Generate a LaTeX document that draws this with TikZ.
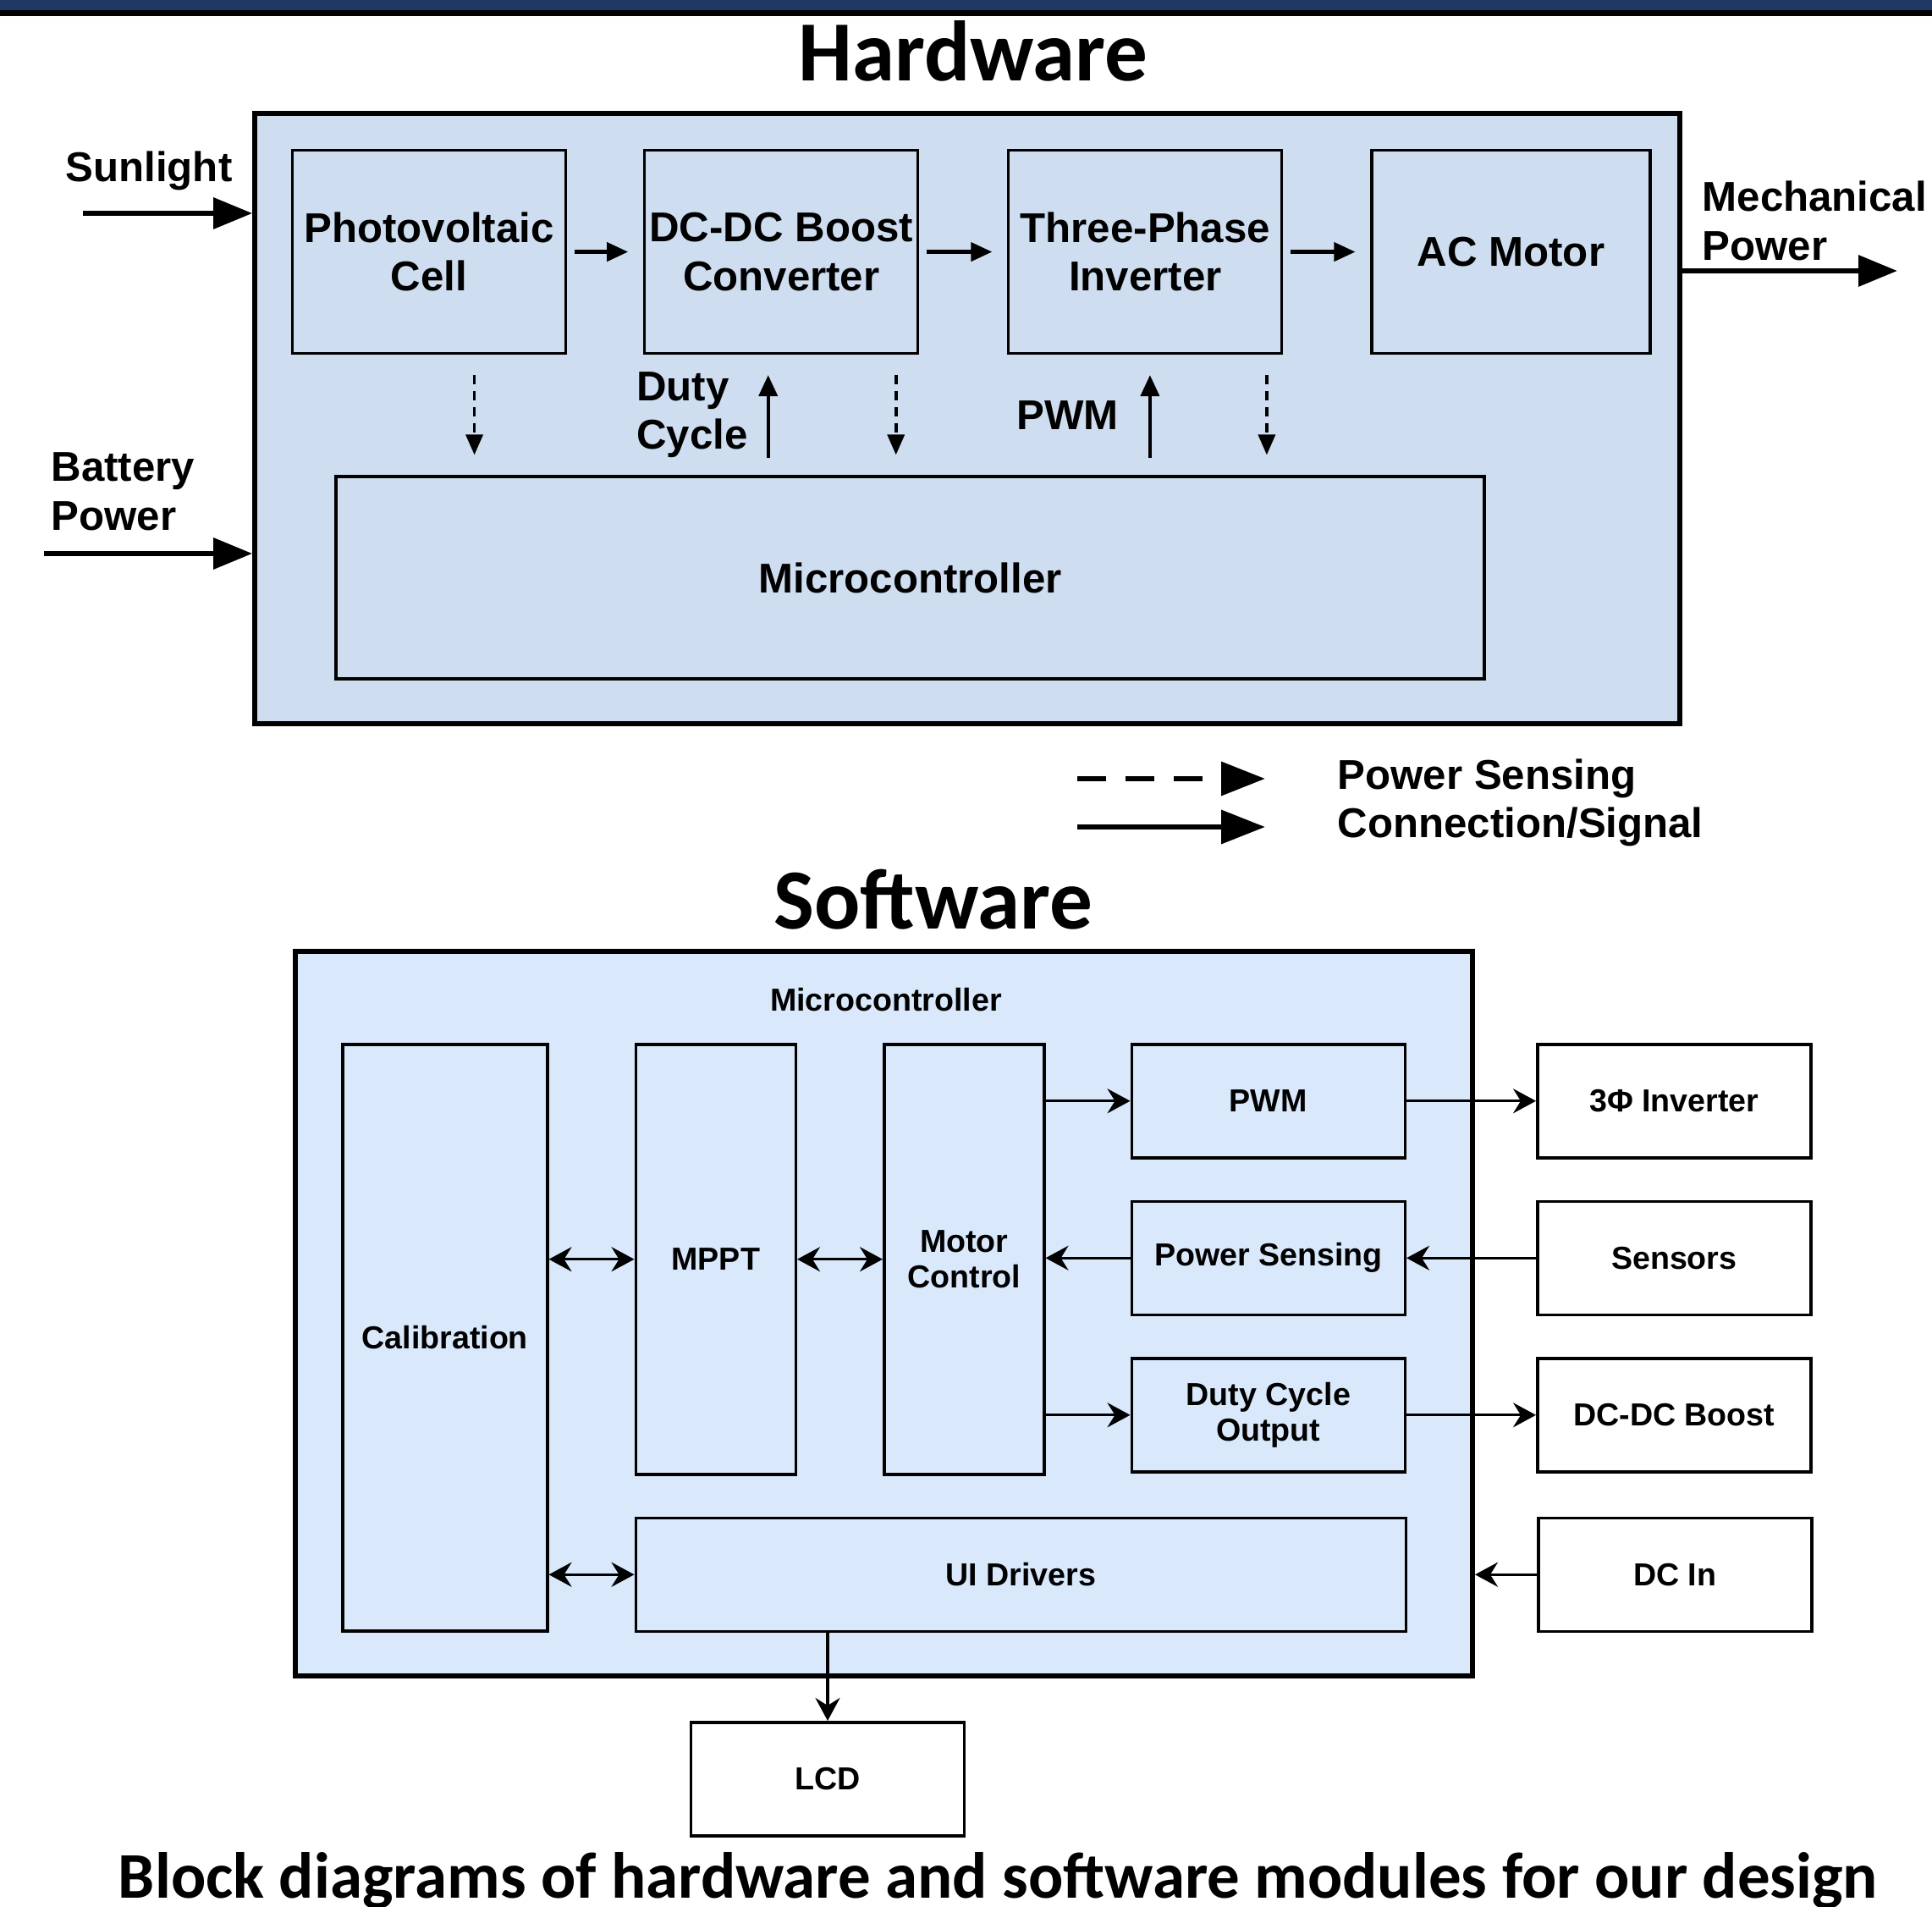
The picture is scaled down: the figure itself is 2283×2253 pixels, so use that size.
\documentclass[tikz,border=0pt]{standalone}
\usepackage{fontspec}
\setmainfont{Liberation Sans}
\newfontfamily\headfont{Carlito}
\usepackage{tikz}
\usepackage{xcolor}
\usetikzlibrary{positioning, arrows.meta}

\definecolor{hwblue}{HTML}{CEDEF0}
\definecolor{swblue}{HTML}{DAE8FC}
\definecolor{banner}{HTML}{1F3864}

\newcommand{\hwfont}{\fontsize{14}{16.4}\selectfont\bfseries}
\newcommand{\swfont}{\fontsize{10.7}{12}\selectfont\bfseries}

\tikzset{
  hwbox/.style={draw, line width=0.9pt, fill=hwblue, align=center, font=\hwfont,
    inner xsep=0.5pt, minimum width=32.3mm, minimum height=24mm},
  hwlabel/.style={align=left, inner sep=0pt, font=\hwfont},
  heading/.style={anchor=base, inner sep=0pt, font=\headfont\fontsize{28.8}{31}\selectfont\bfseries},
  sig/.style={-{Triangle[length=2.5mm,width=2.2mm]}, line width=1.2pt},
  sense/.style={-{Triangle[length=2.4mm,width=2mm]}, line width=1pt,
    dash pattern=on 1.1mm off 0.8mm, shorten <=2.4mm, shorten >=2.4mm},
  bigarrow/.style={-{Triangle[length=4.6mm,width=3.6mm]}, line width=1.8pt},
  legarrow/.style={-{Triangle[length=5.2mm,width=3.9mm]}, line width=1.9pt},
  swbox/.style={draw, line width=1pt, fill=swblue, align=center, font=\swfont},
  iobox/.style={swbox, fill=white, minimum width=32.3mm, minimum height=13.4mm},
  swhead/.tip={Stealth[length=2.7mm,width=2.9mm,inset=0.9mm]},
  flow/.style={-swhead, line width=0.9pt},
  twoway/.style={swhead-swhead, line width=0.9pt},
}

\begin{document}
\begin{tikzpicture}[x=0.1mm, y=-0.1mm, node distance=10mm]
  \useasboundingbox[fill=white] (0,0) rectangle (2283,2253);
  % banner
  \fill[banner] (0,0) rectangle (2283,12);
  \fill[black] (0,12) rectangle (2283,19);

  % hardware
  \node[heading] (hwtitle) at (1150,96) {Hardware};
  \node[draw, line width=1.6pt, fill=hwblue, minimum width=168.4mm, minimum height=72.1mm] (hw) at (1143,494.5) {};
  \node[hwbox, anchor=north west] (pv) at (344,176) {Photovoltaic\\Cell};
  \node[hwbox] (boost) [right=9mm of pv] {DC-DC Boost\\Converter};
  \node[hwbox] (inverter) [right=10.4mm of boost] {Three-Phase\\Inverter};
  \node[hwbox, minimum width=32.9mm] (motor) [right=10.3mm of inverter] {AC Motor};
  \node[hwbox, minimum width=135.7mm, minimum height=23.9mm] (hwmcu) at (1075.5,682.5) {Microcontroller};

  \draw[sig, shorten <=0.9mm, shorten >=1.8mm] (pv) -- (boost);
  \draw[sig, shorten <=0.9mm, shorten >=1.8mm] (boost) -- (inverter);
  \draw[sig, shorten <=0.9mm, shorten >=1.8mm] (inverter) -- (motor);

  \draw[sense] ([xshift=5.35mm]pv.south) -- ([xshift=5.35mm]pv.south |- hwmcu.north);
  \draw[sense] ([xshift=13.55mm]boost.south) -- ([xshift=13.55mm]boost.south |- hwmcu.north);
  \draw[sense] ([xshift=14.35mm]inverter.south) -- ([xshift=14.35mm]inverter.south |- hwmcu.north);
  \draw[sig, shorten <=2mm, shorten >=2.4mm] ([xshift=-1.55mm]boost.south |- hwmcu.north)
    -- node[hwlabel, left=2.2mm] {Duty\\Cycle} ([xshift=-1.55mm]boost.south);
  \draw[sig, shorten <=2mm, shorten >=2.4mm] ([xshift=0.55mm]inverter.south |- hwmcu.north)
    -- node[hwlabel, left=3.5mm] {PWM} ([xshift=0.55mm]inverter.south);

  \coordinate (sun) at (98,252);
  \coordinate (battery) at (52,654);
  \coordinate (mech) at (2242,320);
  \draw[bigarrow] (sun) -- (sun -| hw.west);
  \draw[bigarrow] (battery) -- (battery -| hw.west);
  \draw[bigarrow] (mech -| hw.east) -- (mech);
  \node[hwlabel] (sunlbl) at (176,202) {Sunlight};
  \node[hwlabel, anchor=west] (batlbl) at (60,581) {Battery\\Power};
  \node[hwlabel, anchor=west] (mechlbl) at (2011,261) {Mechanical\\Power};

  % legend
  \coordinate (lgA) at (1273,920);
  \coordinate (lgB) at (1495,920);
  \coordinate (lgC) at (1273,977);
  \coordinate (lgD) at (1495,977);
  \draw[legarrow, dash pattern=on 3.4mm off 2.3mm] (lgA) -- (lgB);
  \draw[legarrow] (lgC) -- (lgD);
  \node[hwlabel, anchor=west] (lgsense) at (1580,920) {Power Sensing};
  \node[hwlabel, anchor=west] (lgsignal) at (1580,977) {Connection/Signal};

  % software
  \node[heading] (swtitle) at (1103,1098) {Software};
  \node[draw, line width=1.7pt, fill=swblue, minimum width=139.1mm, minimum height=85.6mm] (swmcu) at (1044.5,1552) {};
  \node[font=\swfont] (swmculbl) at (1047,1181) {Microcontroller};
  \node[swbox, minimum width=24.2mm, minimum height=69.3mm, anchor=north west] (calib) at (403,1232) {Calibration};
  \node[swbox, minimum width=18.9mm, minimum height=50.8mm, right=10.1mm of calib.north east, anchor=north west] (mppt) {MPPT};
  \node[swbox, minimum width=18.9mm, minimum height=50.8mm, right=10.1mm of mppt.north east, anchor=north west] (motorctl) {Motor\\Control};
  \node[swbox, minimum width=32.3mm, minimum height=13.4mm, right=10mm of motorctl.north east, anchor=north west] (pwm) {PWM};
  \node[swbox, minimum width=32.3mm, minimum height=13.4mm, below=4.8mm of pwm] (psense) {Power Sensing};
  \node[swbox, minimum width=32.3mm, minimum height=13.4mm, below=4.8mm of psense] (duty) {Duty Cycle\\Output};
  \node[swbox, minimum width=91mm, minimum height=13.4mm, below=4.8mm of mppt.south west, anchor=north west] (ui) {UI Drivers};
  \node[iobox, right=15.3mm of pwm] (threephase) {3Φ Inverter};
  \node[iobox, right=15.3mm of psense] (sensors) {Sensors};
  \node[iobox, right=15.3mm of duty] (dcboost) {DC-DC Boost};
  \node[iobox, right=15.3mm of ui] (dcin) {DC In};
  \node[iobox, anchor=north] (lcd) at (978,2033) {LCD};

  \draw[twoway] (calib.east |- mppt.west) -- (mppt.west);
  \draw[twoway] (mppt.east) -- (motorctl.west);
  \draw[twoway] (calib.east |- ui.west) -- (ui.west);
  \draw[flow] (motorctl.east |- pwm.west) -- (pwm.west);
  \draw[flow] (psense.west) -- (psense.west -| motorctl.east);
  \draw[flow] (motorctl.east |- duty.west) -- (duty.west);
  \draw[flow] (pwm) -- (threephase);
  \draw[flow] (sensors) -- (psense);
  \draw[flow] (duty) -- (dcboost);
  \draw[flow] (dcin) -- (dcin -| swmcu.east);
  \draw[flow] (ui.south -| lcd.north) -- (lcd);

  \node[heading, font=\headfont\fontsize{21.9}{24}\selectfont\bfseries] (caption) at (1179.5,2242)
    {Block diagrams of hardware and software modules for our design};
\end{tikzpicture}
\end{document}
